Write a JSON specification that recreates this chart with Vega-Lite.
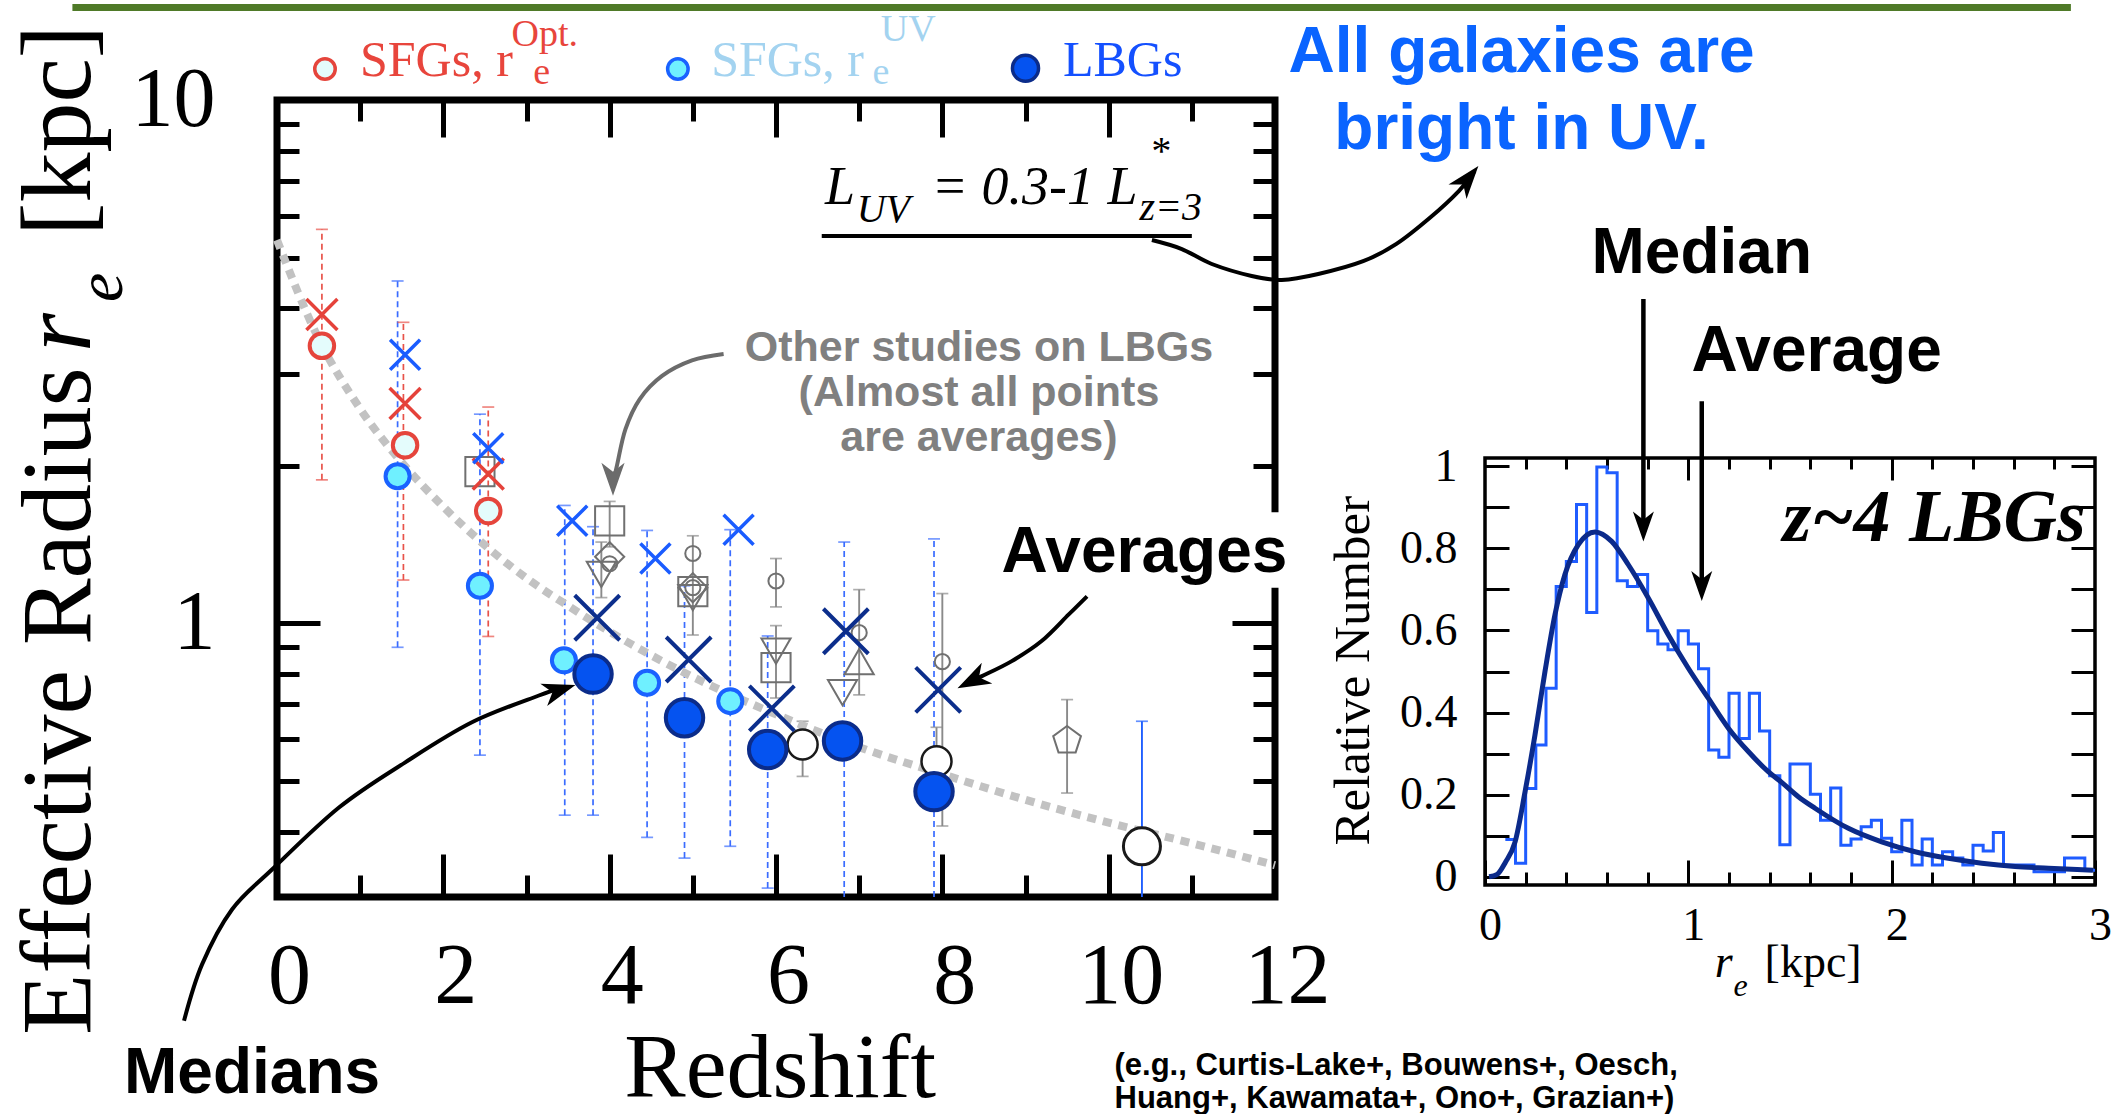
{
 "$schema": "https://vega.github.io/schema/vega-lite/v6.json",
 "background": "white",
 "padding": {"left": 6, "top": 0, "right": 0, "bottom": 0},
 "spacing": 210,
 "bounds": "flush",
 "config": {
  "view": {"stroke": "black", "strokeWidth": 7},
  "axis": {"domain": false, "grid": false, "labelColor": "black", "labelFont": "Liberation Serif", "tickColor": "black", "title": null},
  "font": "Liberation Serif"
 },
 "datasets": {
  "curve": [{"z":0,"r":5.4},{"z":0.5,"r":3.5},{"z":1,"r":2.57},{"z":1.5,"r":2.03},{"z":2,"r":1.67},{"z":2.5,"r":1.41},{"z":3,"r":1.22},{"z":3.5,"r":1.08},{"z":4,"r":0.964},{"z":5,"r":0.79},{"z":6,"r":0.67},{"z":7,"r":0.58},{"z":8,"r":0.515},{"z":9,"r":0.46},{"z":10,"r":0.416},{"z":11,"r":0.38},{"z":12,"r":0.345}],
  "errs": [
   {"z":0.54,"lo":1.88,"hi":5.66,"grp":"red"},{"z":1.52,"lo":1.21,"hi":3.76,"grp":"red"},{"z":2.54,"lo":0.944,"hi":2.59,"grp":"red"},
   {"z":1.45,"lo":0.9,"hi":4.51,"grp":"blue"},{"z":2.44,"lo":0.56,"hi":2.51,"grp":"blue"},{"z":3.46,"lo":0.43,"hi":1.68,"grp":"blue"},{"z":3.8,"lo":0.43,"hi":1.53,"grp":"blue"},{"z":4.45,"lo":0.39,"hi":1.505,"grp":"blue"},{"z":4.9,"lo":0.356,"hi":1.18,"grp":"blue"},{"z":5.45,"lo":0.375,"hi":1.51,"grp":"blue"},{"z":5.9,"lo":0.312,"hi":0.946,"grp":"blue"},{"z":6.82,"lo":0.3,"hi":1.43,"grp":"blue"},{"z":7.9,"lo":0.3,"hi":1.45,"grp":"blue"},
   {"z":4.0,"lo":1.4,"hi":1.71,"grp":"gray"},{"z":3.9,"lo":1.12,"hi":1.43,"grp":"gray"},{"z":5.0,"lo":0.95,"hi":1.47,"grp":"gray"},{"z":6.0,"lo":1.075,"hi":1.33,"grp":"gray"},{"z":6.0,"lo":0.72,"hi":0.99,"grp":"gray"},{"z":6.32,"lo":0.51,"hi":0.65,"grp":"gray"},{"z":7.0,"lo":0.73,"hi":1.16,"grp":"gray"},{"z":8.0,"lo":0.41,"hi":1.14,"grp":"gray"},{"z":7.93,"lo":0.545,"hi":0.633,"grp":"gray"},{"z":9.5,"lo":0.474,"hi":0.715,"grp":"gray"},
   {"z":10.4,"lo":0.3,"hi":0.65,"grp":"bluesolid"}
  ],
  "pts": [
   {"z":0.54,"r":3.39,"k":"sfgOpt"},{"z":1.54,"r":2.19,"k":"sfgOpt"},{"z":2.54,"r":1.64,"k":"sfgOpt"},
   {"z":0.54,"r":3.89,"k":"sfgOptX"},{"z":1.54,"r":2.63,"k":"sfgOptX"},{"z":2.54,"r":1.93,"k":"sfgOptX"},
   {"z":1.45,"r":1.91,"k":"sfgUV"},{"z":2.44,"r":1.18,"k":"sfgUV"},{"z":3.45,"r":0.85,"k":"sfgUV"},{"z":4.45,"r":0.77,"k":"sfgUV"},{"z":5.45,"r":0.71,"k":"sfgUV"},
   {"z":1.54,"r":3.26,"k":"sfgUVX"},{"z":2.54,"r":2.16,"k":"sfgUVX"},{"z":3.55,"r":1.57,"k":"sfgUVX"},{"z":4.55,"r":1.33,"k":"sfgUVX"},{"z":5.55,"r":1.51,"k":"sfgUVX"},
   {"z":3.8,"r":0.8,"k":"lbg"},{"z":4.9,"r":0.66,"k":"lbg"},{"z":5.9,"r":0.574,"k":"lbg"},{"z":6.8,"r":0.596,"k":"lbg"},{"z":7.9,"r":0.477,"k":"lbg"},
   {"z":3.85,"r":1.025,"k":"lbgX"},{"z":4.95,"r":0.853,"k":"lbgX"},{"z":5.95,"r":0.688,"k":"lbgX"},{"z":6.84,"r":0.966,"k":"lbgX"},{"z":7.95,"r":0.746,"k":"lbgX"},
   {"z":2.44,"r":1.95,"k":"gsq"},{"z":4.0,"r":1.57,"k":"gsq"},{"z":5.0,"r":1.15,"k":"gsq"},{"z":6.0,"r":0.823,"k":"gsq"},
   {"z":4.0,"r":1.34,"k":"gdia"},{"z":5.0,"r":1.17,"k":"gdia"},
   {"z":4.0,"r":1.3,"k":"gcirc"},{"z":5.0,"r":1.36,"k":"gcirc"},{"z":5.0,"r":1.17,"k":"gcirc"},{"z":6.0,"r":1.205,"k":"gcirc"},{"z":7.0,"r":0.96,"k":"gcirc"},{"z":8.0,"r":0.845,"k":"gcirc"},
   {"z":3.9,"r":1.24,"k":"gtd"},{"z":5.0,"r":1.12,"k":"gtd"},{"z":6.0,"r":0.885,"k":"gtd"},{"z":6.8,"r":0.737,"k":"gtd"},
   {"z":7.0,"r":0.845,"k":"gtu"},
   {"z":9.5,"r":0.597,"k":"gpent"},
   {"z":6.32,"r":0.587,"k":"open"},{"z":7.93,"r":0.545,"k":"open"},
   {"z":10.4,"r":0.375,"k":"openbig"}
  ],
  "arrows": [
   {"id":"uv","i":0,"z":10.52,"r":5.4},{"id":"uv","i":1,"z":10.88,"r":5.19},{"id":"uv","i":2,"z":11.24,"r":4.86},{"id":"uv","i":3,"z":11.72,"r":4.61},{"id":"uv","i":4,"z":12.08,"r":4.53},{"id":"uv","i":5,"z":12.52,"r":4.65},{"id":"uv","i":6,"z":13.06,"r":4.92},{"id":"uv","i":7,"z":13.46,"r":5.31},{"id":"uv","i":8,"z":13.87,"r":5.97},{"id":"uv","i":9,"z":14.21,"r":6.7},{"id":"uv","i":10,"z":14.4,"r":7.31},
   {"id":"avg","i":0,"z":9.74,"r":1.126},{"id":"avg","i":1,"z":9.52,"r":1.04},{"id":"avg","i":2,"z":9.19,"r":0.924},{"id":"avg","i":3,"z":8.83,"r":0.846},{"id":"avg","i":4,"z":8.47,"r":0.792},{"id":"avg","i":5,"z":8.3,"r":0.77},
   {"id":"med","i":0,"z":-1.118,"r":0.174},{"id":"med","i":1,"z":-0.901,"r":0.223},{"id":"med","i":2,"z":-0.541,"r":0.284},{"id":"med","i":3,"z":-0.06,"r":0.3385},{"id":"med","i":4,"z":0.745,"r":0.4447},{"id":"med","i":5,"z":1.538,"r":0.542},{"id":"med","i":6,"z":2.344,"r":0.647},{"id":"med","i":7,"z":3.149,"r":0.728},{"id":"med","i":8,"z":3.35,"r":0.745}
  ],
  "grayarrow": [{"i":0,"z":5.37,"r":3.27},{"i":1,"z":4.99,"r":3.18},{"i":2,"z":4.63,"r":2.97},{"i":3,"z":4.36,"r":2.68},{"i":4,"z":4.19,"r":2.35},{"i":5,"z":4.09,"r":2.01},{"i":6,"z":4.04,"r":1.85}],
  "hist": [
   {"k":0.1,"v":0.091},{"k":0.15,"v":0.033},{"k":0.2,"v":0.215},{"k":0.25,"v":0.321},{"k":0.3,"v":0.459},{"k":0.35,"v":0.707},{"k":0.4,"v":0.768},{"k":0.45,"v":0.907},{"k":0.5,"v":0.644},{"k":0.55,"v":0.998},
   {"k":0.6,"v":0.984},{"k":0.65,"v":0.721},{"k":0.7,"v":0.707},{"k":0.75,"v":0.736},{"k":0.8,"v":0.599},{"k":0.85,"v":0.567},{"k":0.9,"v":0.553},{"k":0.95,"v":0.599},{"k":1.0,"v":0.567},{"k":1.05,"v":0.507},
   {"k":1.1,"v":0.309},{"k":1.15,"v":0.291},{"k":1.2,"v":0.447},{"k":1.25,"v":0.337},{"k":1.3,"v":0.447},{"k":1.35,"v":0.355},{"k":1.4,"v":0.246},{"k":1.45,"v":0.078},{"k":1.5,"v":0.275},{"k":1.55,"v":0.275},
   {"k":1.6,"v":0.201},{"k":1.65,"v":0.138},{"k":1.7,"v":0.216},{"k":1.75,"v":0.077},{"k":1.8,"v":0.092},{"k":1.85,"v":0.122},{"k":1.9,"v":0.138},{"k":1.95,"v":0.094},{"k":2.0,"v":0.061},{"k":2.05,"v":0.138},
   {"k":2.1,"v":0.029},{"k":2.15,"v":0.092},{"k":2.2,"v":0.029},{"k":2.25,"v":0.061},{"k":2.3,"v":0.046},{"k":2.35,"v":0.029},{"k":2.4,"v":0.077},{"k":2.45,"v":0.063},{"k":2.5,"v":0.108},{"k":2.55,"v":0.029},
   {"k":2.6,"v":0.029},{"k":2.65,"v":0.029},{"k":2.7,"v":0.012},{"k":2.75,"v":0.012},{"k":2.8,"v":0.012},{"k":2.85,"v":0.046},{"k":2.9,"v":0.046},{"k":2.95,"v":0.016},{"k":3.0,"v":0.016}
  ],
  "fit": [
   {"k":0.02,"v":0.0},{"k":0.06,"v":0.006},{"k":0.1,"v":0.035},{"k":0.148,"v":0.085},{"k":0.197,"v":0.207},{"k":0.246,"v":0.346},{"k":0.295,"v":0.5},{"k":0.344,"v":0.638},{"k":0.393,"v":0.736},{"k":0.459,"v":0.809},{"k":0.541,"v":0.84},{"k":0.623,"v":0.817},{"k":0.705,"v":0.76},{"k":0.803,"v":0.679},{"k":0.902,"v":0.589},{"k":1.0,"v":0.508},{"k":1.098,"v":0.435},{"k":1.197,"v":0.362},{"k":1.295,"v":0.305},{"k":1.393,"v":0.256},{"k":1.459,"v":0.23},{"k":1.541,"v":0.195},{"k":1.623,"v":0.167},{"k":1.787,"v":0.118},{"k":1.951,"v":0.085},{"k":2.115,"v":0.061},{"k":2.279,"v":0.045},{"k":2.443,"v":0.033},{"k":2.607,"v":0.025},{"k":2.771,"v":0.021},{"k":2.99,"v":0.016}
  ]
 },
 "hconcat": [
  {
   "width": 998, "height": 797,
   "resolve": {"axis": {"x": "independent", "y": "independent"}},
   "layer": [
    {"data": {"name": "errs"}, "transform": [{"filter": "datum.grp == 'red' || datum.grp == 'blue'"}],
     "mark": {"type": "rule", "strokeDash": [6, 4], "strokeWidth": 1.7},
     "encoding": {
      "x": {"field": "z", "type": "quantitative", "scale": {"domain": [0, 12], "nice": false, "zero": false}, "axis": {"orient": "bottom", "values": [0,2,4,6,8,10,12], "ticks": false, "labelFontSize": 86, "labelPadding": 37, "labelOffset": 12, "labelFlush": false}},
      "y": {"field": "lo", "type": "quantitative", "scale": {"type": "log", "domain": [0.3, 10], "nice": false}, "axis": {"orient": "left", "values": [1, 10], "ticks": false, "labelFontSize": 84, "labelPadding": 62, "labelFlush": false, "format": "~g"}},
      "y2": {"field": "hi"},
      "color": {"field": "grp", "type": "nominal", "scale": {"domain": ["red","blue","gray","bluesolid"], "range": ["#e8534a","#3a6cff","#8a8a8a","#1f5fff"]}, "legend": null}
     }},
    {"data": {"name": "errs"}, "transform": [{"filter": "datum.grp == 'gray' || datum.grp == 'bluesolid'"}],
     "mark": {"type": "rule", "strokeWidth": 1.9},
     "encoding": {
      "x": {"field": "z", "type": "quantitative", "scale": {"domain": [0, 12], "nice": false, "zero": false}, "axis": {"orient": "bottom", "values": [0,2,4,6,8,10,12], "labels": false, "tickSize": -43, "tickWidth": 5}},
      "y": {"field": "lo", "type": "quantitative", "scale": {"type": "log", "domain": [0.3, 10], "nice": false}, "axis": {"orient": "left", "values": [1, 10], "labels": false, "tickSize": -43, "tickWidth": 5}},
      "y2": {"field": "hi"},
      "color": {"field": "grp", "type": "nominal", "legend": null}
     }},
    {"data": {"name": "errs"},
     "mark": {"type": "tick", "orient": "horizontal", "size": 12, "thickness": 1.7},
     "encoding": {
      "x": {"field": "z", "type": "quantitative", "scale": {"domain": [0, 12], "nice": false, "zero": false}, "axis": {"orient": "bottom", "values": [1,3,5,7,9,11], "labels": false, "tickSize": -22, "tickWidth": 5}},
      "y": {"field": "hi", "type": "quantitative", "scale": {"type": "log", "domain": [0.3, 10], "nice": false}, "axis": {"orient": "left", "values": [0.4,0.5,0.6,0.7,0.8,0.9,2,3,4,5,6,7,8,9], "labels": false, "tickSize": -22, "tickWidth": 5}},
      "color": {"field": "grp", "type": "nominal", "legend": null}
     }},
    {"data": {"name": "errs"}, "transform": [{"filter": "datum.lo > 0.31"}],
     "mark": {"type": "tick", "orient": "horizontal", "size": 12, "thickness": 1.7},
     "encoding": {
      "x": {"field": "z", "type": "quantitative", "scale": {"domain": [0, 12], "nice": false, "zero": false}, "axis": {"orient": "top", "values": [0,2,4,6,8,10,12], "labels": false, "tickSize": -37, "tickWidth": 5}},
      "y": {"field": "lo", "type": "quantitative", "scale": {"type": "log", "domain": [0.3, 10], "nice": false}, "axis": {"orient": "right", "values": [1, 10], "labels": false, "tickSize": -43, "tickWidth": 5}},
      "color": {"field": "grp", "type": "nominal", "legend": null}
     }},
    {"data": {"name": "curve"},
     "mark": {"type": "line", "color": "#c2c2c2", "strokeWidth": 8, "strokeDash": [9, 7], "interpolate": "monotone"},
     "encoding": {
      "x": {"field": "z", "type": "quantitative", "scale": {"domain": [0, 12], "nice": false, "zero": false}, "axis": {"orient": "top", "values": [1,3,5,7,9,11], "labels": false, "tickSize": -21, "tickWidth": 5}},
      "y": {"field": "r", "type": "quantitative", "scale": {"type": "log", "domain": [0.3, 10], "nice": false}, "axis": {"orient": "right", "values": [0.4,0.5,0.6,0.7,0.8,0.9,2,3,4,5,6,7,8,9], "labels": false, "tickSize": -22, "tickWidth": 5}}
     }},
    {"data": {"name": "pts"}, "transform": [{"filter": "indexof(['gsq','gdia','gtd','gtu','gpent'], datum.k) >= 0"}],
     "mark": {"type": "point", "filled": false, "color": "#707070", "strokeWidth": 2, "size": 850, "opacity": 1},
     "encoding": {
      "x": {"field": "z", "type": "quantitative", "scale": {"domain": [0, 12], "nice": false, "zero": false}, "axis": null},
      "y": {"field": "r", "type": "quantitative", "scale": {"type": "log", "domain": [0.3, 10], "nice": false}, "axis": null},
      "shape": {"field": "k", "type": "nominal", "scale": {"domain": ["gsq","gdia","gtd","gtu","gpent"], "range": ["square","diamond","triangle-down","triangle-up","M0,-1L0.951,-0.309L0.588,0.809L-0.588,0.809L-0.951,-0.309Z"]}, "legend": null}
     }},
    {"data": {"name": "pts"}, "transform": [{"filter": "datum.k == 'gcirc'"}],
     "mark": {"type": "point", "shape": "circle", "filled": false, "color": "#707070", "strokeWidth": 2, "size": 230, "opacity": 1},
     "encoding": {
      "x": {"field": "z", "type": "quantitative", "scale": {"domain": [0, 12], "nice": false, "zero": false}, "axis": null},
      "y": {"field": "r", "type": "quantitative", "scale": {"type": "log", "domain": [0.3, 10], "nice": false}, "axis": null}
     }},
    {"data": {"name": "pts"}, "transform": [{"filter": "datum.k == 'open'"}],
     "mark": {"type": "point", "shape": "circle", "filled": true, "fill": "white", "stroke": "#1a1a1a", "strokeWidth": 2.5, "size": 900, "opacity": 1},
     "encoding": {
      "x": {"field": "z", "type": "quantitative", "scale": {"domain": [0, 12], "nice": false, "zero": false}, "axis": null},
      "y": {"field": "r", "type": "quantitative", "scale": {"type": "log", "domain": [0.3, 10], "nice": false}, "axis": null}
     }},
    {"data": {"name": "pts"}, "transform": [{"filter": "datum.k == 'openbig'"}],
     "mark": {"type": "point", "shape": "circle", "filled": true, "fill": "white", "stroke": "#1a1a1a", "strokeWidth": 3, "size": 1370, "opacity": 1},
     "encoding": {
      "x": {"field": "z", "type": "quantitative", "scale": {"domain": [0, 12], "nice": false, "zero": false}, "axis": null},
      "y": {"field": "r", "type": "quantitative", "scale": {"type": "log", "domain": [0.3, 10], "nice": false}, "axis": null}
     }},
    {"data": {"name": "pts"}, "transform": [{"filter": "datum.k == 'sfgOpt'"}],
     "mark": {"type": "point", "shape": "circle", "filled": true, "fill": "#e4fcfc", "stroke": "#e5453c", "strokeWidth": 4, "size": 600, "opacity": 1},
     "encoding": {
      "x": {"field": "z", "type": "quantitative", "scale": {"domain": [0, 12], "nice": false, "zero": false}, "axis": null},
      "y": {"field": "r", "type": "quantitative", "scale": {"type": "log", "domain": [0.3, 10], "nice": false}, "axis": null}
     }},
    {"data": {"name": "pts"}, "transform": [{"filter": "datum.k == 'sfgUV'"}],
     "mark": {"type": "point", "shape": "circle", "filled": true, "fill": "#6ff0ff", "stroke": "#1a62ff", "strokeWidth": 4, "size": 580, "opacity": 1},
     "encoding": {
      "x": {"field": "z", "type": "quantitative", "scale": {"domain": [0, 12], "nice": false, "zero": false}, "axis": null},
      "y": {"field": "r", "type": "quantitative", "scale": {"type": "log", "domain": [0.3, 10], "nice": false}, "axis": null}
     }},
    {"data": {"name": "pts"}, "transform": [{"filter": "datum.k == 'lbg'"}],
     "mark": {"type": "point", "shape": "circle", "filled": true, "fill": "#0553f0", "stroke": "#0b2c8a", "strokeWidth": 4, "size": 1400, "opacity": 1},
     "encoding": {
      "x": {"field": "z", "type": "quantitative", "scale": {"domain": [0, 12], "nice": false, "zero": false}, "axis": null},
      "y": {"field": "r", "type": "quantitative", "scale": {"type": "log", "domain": [0.3, 10], "nice": false}, "axis": null}
     }},
    {"data": {"name": "pts"}, "transform": [{"filter": "datum.k == 'sfgOptX'"}],
     "mark": {"type": "point", "shape": "M-1,-1L1,1M-1,1L1,-1", "filled": false, "color": "#e5423a", "strokeWidth": 3.5, "size": 960, "opacity": 1},
     "encoding": {
      "x": {"field": "z", "type": "quantitative", "scale": {"domain": [0, 12], "nice": false, "zero": false}, "axis": null},
      "y": {"field": "r", "type": "quantitative", "scale": {"type": "log", "domain": [0.3, 10], "nice": false}, "axis": null}
     }},
    {"data": {"name": "pts"}, "transform": [{"filter": "datum.k == 'sfgUVX'"}],
     "mark": {"type": "point", "shape": "M-1,-1L1,1M-1,1L1,-1", "filled": false, "color": "#1a5cff", "strokeWidth": 3.5, "size": 900, "opacity": 1},
     "encoding": {
      "x": {"field": "z", "type": "quantitative", "scale": {"domain": [0, 12], "nice": false, "zero": false}, "axis": null},
      "y": {"field": "r", "type": "quantitative", "scale": {"type": "log", "domain": [0.3, 10], "nice": false}, "axis": null}
     }},
    {"data": {"name": "pts"}, "transform": [{"filter": "datum.k == 'lbgX'"}],
     "mark": {"type": "point", "shape": "M-1,-1L1,1M-1,1L1,-1", "filled": false, "color": "#0c2e8c", "strokeWidth": 4, "size": 2025, "opacity": 1},
     "encoding": {
      "x": {"field": "z", "type": "quantitative", "scale": {"domain": [0, 12], "nice": false, "zero": false}, "axis": null},
      "y": {"field": "r", "type": "quantitative", "scale": {"type": "log", "domain": [0.3, 10], "nice": false}, "axis": null}
     }},
    {"data": {"values": [{"z1": -2.46, "z2": 21.57, "r1": 15.26, "r2": 14.8}]},
     "mark": {"type": "rect", "color": "#4f7a28"},
     "encoding": {
      "x": {"field": "z1", "type": "quantitative", "scale": {"domain": [0, 12], "nice": false, "zero": false}, "axis": null},
      "x2": {"field": "z2"},
      "y": {"field": "r1", "type": "quantitative", "scale": {"type": "log", "domain": [0.3, 10], "nice": false}, "axis": null},
      "y2": {"field": "r2"}
     }},
    {"data": {"values": [{"z": 0.577, "r": 11.46}]},
     "mark": {"type": "point", "shape": "circle", "filled": true, "fill": "#e4fcfc", "stroke": "#e5453c", "strokeWidth": 3.5, "size": 420, "opacity": 1},
     "encoding": {"x": {"field": "z", "type": "quantitative", "scale": {"domain": [0, 12], "nice": false, "zero": false}, "axis": null}, "y": {"field": "r", "type": "quantitative", "scale": {"type": "log", "domain": [0.3, 10], "nice": false}, "axis": null}}},
    {"data": {"values": [{"z": 4.82, "r": 11.46}]},
     "mark": {"type": "point", "shape": "circle", "filled": true, "fill": "#6ff0ff", "stroke": "#1a62ff", "strokeWidth": 3.5, "size": 420, "opacity": 1},
     "encoding": {"x": {"field": "z", "type": "quantitative", "scale": {"domain": [0, 12], "nice": false, "zero": false}, "axis": null}, "y": {"field": "r", "type": "quantitative", "scale": {"type": "log", "domain": [0.3, 10], "nice": false}, "axis": null}}},
    {"data": {"values": [{"z": 9.0, "r": 11.5}]},
     "mark": {"type": "point", "shape": "circle", "filled": true, "fill": "#0553f0", "stroke": "#0b2c8a", "strokeWidth": 3.5, "size": 680, "opacity": 1},
     "encoding": {"x": {"field": "z", "type": "quantitative", "scale": {"domain": [0, 12], "nice": false, "zero": false}, "axis": null}, "y": {"field": "r", "type": "quantitative", "scale": {"type": "log", "domain": [0.3, 10], "nice": false}, "axis": null}}},
    {"data": {"values": [{"t": "SFGs, r", "z": 0.998, "r": 11.12}]},
     "mark": {"type": "text", "align": "left", "baseline": "alphabetic", "font": "Liberation Serif", "fontSize": 50, "color": "#e8453c"},
     "encoding": {"x": {"field": "z", "type": "quantitative", "scale": {"domain": [0, 12], "nice": false, "zero": false}, "axis": null}, "y": {"field": "r", "type": "quantitative", "scale": {"type": "log", "domain": [0.3, 10], "nice": false}, "axis": null}, "text": {"field": "t"}}},
    {"data": {"values": [{"t": "Opt.", "z": 2.82, "r": 12.69}, {"t": "e", "z": 3.08, "r": 10.73}]},
     "mark": {"type": "text", "align": "left", "baseline": "alphabetic", "font": "Liberation Serif", "fontSize": 38, "color": "#e8453c"},
     "encoding": {"x": {"field": "z", "type": "quantitative", "scale": {"domain": [0, 12], "nice": false, "zero": false}, "axis": null}, "y": {"field": "r", "type": "quantitative", "scale": {"type": "log", "domain": [0.3, 10], "nice": false}, "axis": null}, "text": {"field": "t"}}},
    {"data": {"values": [{"t": "SFGs, r", "z": 5.22, "r": 11.12}]},
     "mark": {"type": "text", "align": "left", "baseline": "alphabetic", "font": "Liberation Serif", "fontSize": 50, "color": "#a3d3f0"},
     "encoding": {"x": {"field": "z", "type": "quantitative", "scale": {"domain": [0, 12], "nice": false, "zero": false}, "axis": null}, "y": {"field": "r", "type": "quantitative", "scale": {"type": "log", "domain": [0.3, 10], "nice": false}, "axis": null}, "text": {"field": "t"}}},
    {"data": {"values": [{"t": "UV", "z": 7.26, "r": 12.97}, {"t": "e", "z": 7.16, "r": 10.73}]},
     "mark": {"type": "text", "align": "left", "baseline": "alphabetic", "font": "Liberation Serif", "fontSize": 38, "color": "#a3d3f0"},
     "encoding": {"x": {"field": "z", "type": "quantitative", "scale": {"domain": [0, 12], "nice": false, "zero": false}, "axis": null}, "y": {"field": "r", "type": "quantitative", "scale": {"type": "log", "domain": [0.3, 10], "nice": false}, "axis": null}, "text": {"field": "t"}}},
    {"data": {"values": [{"t": "LBGs", "z": 9.45, "r": 11.12}]},
     "mark": {"type": "text", "align": "left", "baseline": "alphabetic", "font": "Liberation Serif", "fontSize": 50, "color": "#1450ff"},
     "encoding": {"x": {"field": "z", "type": "quantitative", "scale": {"domain": [0, 12], "nice": false, "zero": false}, "axis": null}, "y": {"field": "r", "type": "quantitative", "scale": {"type": "log", "domain": [0.3, 10], "nice": false}, "axis": null}, "text": {"field": "t"}}},
    {"data": {"values": [{"t": "L", "z": 6.59, "r": 6.33}, {"t": "= 0.3-1 L", "z": 7.87, "r": 6.33}]},
     "mark": {"type": "text", "align": "left", "baseline": "alphabetic", "font": "Liberation Serif", "fontStyle": "italic", "fontSize": 54, "color": "black"},
     "encoding": {"x": {"field": "z", "type": "quantitative", "scale": {"domain": [0, 12], "nice": false, "zero": false}, "axis": null}, "y": {"field": "r", "type": "quantitative", "scale": {"type": "log", "domain": [0.3, 10], "nice": false}, "axis": null}, "text": {"field": "t"}}},
    {"data": {"values": [{"t": "UV", "z": 6.97, "r": 5.84}, {"t": "z=3", "z": 10.37, "r": 5.9}, {"t": "*", "z": 10.49, "r": 7.55}]},
     "mark": {"type": "text", "align": "left", "baseline": "alphabetic", "font": "Liberation Serif", "fontStyle": "italic", "fontSize": 40, "color": "black"},
     "encoding": {"x": {"field": "z", "type": "quantitative", "scale": {"domain": [0, 12], "nice": false, "zero": false}, "axis": null}, "y": {"field": "r", "type": "quantitative", "scale": {"type": "log", "domain": [0.3, 10], "nice": false}, "axis": null}, "text": {"field": "t"}}},
    {"data": {"values": [{"z1": 6.55, "z2": 11.0, "r": 5.5}]},
     "mark": {"type": "rule", "color": "black", "strokeWidth": 4},
     "encoding": {"x": {"field": "z1", "type": "quantitative", "scale": {"domain": [0, 12], "nice": false, "zero": false}, "axis": null}, "x2": {"field": "z2"}, "y": {"field": "r", "type": "quantitative", "scale": {"type": "log", "domain": [0.3, 10], "nice": false}, "axis": null}}},
    {"data": {"name": "arrows"},
     "mark": {"type": "line", "color": "black", "strokeWidth": 4, "interpolate": "cardinal"},
     "encoding": {"x": {"field": "z", "type": "quantitative", "scale": {"domain": [0, 12], "nice": false, "zero": false}, "axis": null}, "y": {"field": "r", "type": "quantitative", "scale": {"type": "log", "domain": [0.3, 10], "nice": false}, "axis": null}, "detail": {"field": "id"}, "order": {"field": "i"}}},
    {"data": {"name": "grayarrow"},
     "mark": {"type": "line", "color": "#6b6b6b", "strokeWidth": 4, "interpolate": "cardinal"},
     "encoding": {"x": {"field": "z", "type": "quantitative", "scale": {"domain": [0, 12], "nice": false, "zero": false}, "axis": null}, "y": {"field": "r", "type": "quantitative", "scale": {"type": "log", "domain": [0.3, 10], "nice": false}, "axis": null}, "order": {"field": "i"}}},
    {"data": {"values": [{"z": 14.32, "r": 7.07}]},
     "mark": {"type": "point", "shape": "M0,-1L0.7,1L0,0.45L-0.7,1Z", "filled": true, "color": "black", "size": 1100, "angle": 39, "opacity": 1},
     "encoding": {"x": {"field": "z", "type": "quantitative", "scale": {"domain": [0, 12], "nice": false, "zero": false}, "axis": null}, "y": {"field": "r", "type": "quantitative", "scale": {"type": "log", "domain": [0.3, 10], "nice": false}, "axis": null}}},
    {"data": {"values": [{"z": 4.04, "r": 1.885}]},
     "mark": {"type": "point", "shape": "M0,-1L0.7,1L0,0.45L-0.7,1Z", "filled": true, "color": "#6b6b6b", "size": 1100, "angle": 180, "opacity": 1},
     "encoding": {"x": {"field": "z", "type": "quantitative", "scale": {"domain": [0, 12], "nice": false, "zero": false}, "axis": null}, "y": {"field": "r", "type": "quantitative", "scale": {"type": "log", "domain": [0.3, 10], "nice": false}, "axis": null}}},
    {"data": {"values": [{"z": 8.36, "r": 0.777}]},
     "mark": {"type": "point", "shape": "M0,-1L0.7,1L0,0.45L-0.7,1Z", "filled": true, "color": "black", "size": 1100, "angle": 243, "opacity": 1},
     "encoding": {"x": {"field": "z", "type": "quantitative", "scale": {"domain": [0, 12], "nice": false, "zero": false}, "axis": null}, "y": {"field": "r", "type": "quantitative", "scale": {"type": "log", "domain": [0.3, 10], "nice": false}, "axis": null}}},
    {"data": {"values": [{"z": 3.398, "r": 0.746}]},
     "mark": {"type": "point", "shape": "M0,-1L0.7,1L0,0.45L-0.7,1Z", "filled": true, "color": "black", "size": 1100, "angle": 73, "opacity": 1},
     "encoding": {"x": {"field": "z", "type": "quantitative", "scale": {"domain": [0, 12], "nice": false, "zero": false}, "axis": null}, "y": {"field": "r", "type": "quantitative", "scale": {"type": "log", "domain": [0.3, 10], "nice": false}, "axis": null}}},
    {"data": {"values": [{"t": "Other studies on LBGs\n(Almost all points\nare averages)", "z": 8.44, "r": 3.17}]},
     "mark": {"type": "text", "align": "center", "baseline": "alphabetic", "font": "Liberation Sans", "fontWeight": "bold", "fontSize": 43, "lineHeight": 45, "lineBreak": "\n", "color": "#808080"},
     "encoding": {"x": {"field": "z", "type": "quantitative", "scale": {"domain": [0, 12], "nice": false, "zero": false}, "axis": null}, "y": {"field": "r", "type": "quantitative", "scale": {"type": "log", "domain": [0.3, 10], "nice": false}, "axis": null}, "text": {"field": "t"}}},
    {"data": {"values": [{"z1": 11.8, "z2": 12.3, "r1": 1.17, "r2": 1.63}]},
     "mark": {"type": "rect", "color": "white"},
     "encoding": {"x": {"field": "z1", "type": "quantitative", "scale": {"domain": [0, 12], "nice": false, "zero": false}, "axis": null}, "x2": {"field": "z2"}, "y": {"field": "r1", "type": "quantitative", "scale": {"type": "log", "domain": [0.3, 10], "nice": false}, "axis": null}, "y2": {"field": "r2"}}},
    {"data": {"values": [{"t": "Averages", "z": 10.43, "r": 1.252}, {"t": "Medians", "z": -0.3, "r": 0.1268}]},
     "mark": {"type": "text", "align": "center", "baseline": "alphabetic", "font": "Liberation Sans", "fontWeight": "bold", "fontSize": 64, "color": "black"},
     "encoding": {"x": {"field": "z", "type": "quantitative", "scale": {"domain": [0, 12], "nice": false, "zero": false}, "axis": null}, "y": {"field": "r", "type": "quantitative", "scale": {"type": "log", "domain": [0.3, 10], "nice": false}, "axis": null}, "text": {"field": "t"}}},
    {"data": {"values": [{"t": "(e.g., Curtis-Lake+, Bouwens+, Oesch,\nHuang+, Kawamata+, Ono+, Grazian+)", "z": 10.07, "r": 0.1373}]},
     "mark": {"type": "text", "align": "left", "baseline": "alphabetic", "font": "Liberation Sans", "fontWeight": "bold", "fontSize": 31, "lineHeight": 33, "lineBreak": "\n", "color": "black"},
     "encoding": {"x": {"field": "z", "type": "quantitative", "scale": {"domain": [0, 12], "nice": false, "zero": false}, "axis": null}, "y": {"field": "r", "type": "quantitative", "scale": {"type": "log", "domain": [0.3, 10], "nice": false}, "axis": null}, "text": {"field": "t"}}},
    {"data": {"values": [{"t": "Redshift", "z": 6.05, "r": 0.1246}]},
     "mark": {"type": "text", "align": "center", "baseline": "alphabetic", "font": "Liberation Serif", "fontSize": 92, "color": "black"},
     "encoding": {"x": {"field": "z", "type": "quantitative", "scale": {"domain": [0, 12], "nice": false, "zero": false}, "axis": null}, "y": {"field": "r", "type": "quantitative", "scale": {"type": "log", "domain": [0.3, 10], "nice": false}, "axis": null}, "text": {"field": "t"}}},
    {"data": {"values": [{"t": "Effective Radius", "z": -2.248, "r": 0.1637}, {"t": "[kpc]", "z": -2.248, "r": 5.5}]},
     "mark": {"type": "text", "align": "left", "baseline": "alphabetic", "angle": 270, "font": "Liberation Serif", "fontSize": 100, "color": "black"},
     "encoding": {"x": {"field": "z", "type": "quantitative", "scale": {"domain": [0, 12], "nice": false, "zero": false}, "axis": null}, "y": {"field": "r", "type": "quantitative", "scale": {"type": "log", "domain": [0.3, 10], "nice": false}, "axis": null}, "text": {"field": "t"}}},
    {"data": {"values": [{"t": "r", "z": -2.248, "r": 3.3}]},
     "mark": {"type": "text", "align": "left", "baseline": "alphabetic", "angle": 270, "font": "Liberation Serif", "fontStyle": "italic", "fontSize": 100, "color": "black"},
     "encoding": {"x": {"field": "z", "type": "quantitative", "scale": {"domain": [0, 12], "nice": false, "zero": false}, "axis": null}, "y": {"field": "r", "type": "quantitative", "scale": {"type": "log", "domain": [0.3, 10], "nice": false}, "axis": null}, "text": {"field": "t"}}},
    {"data": {"values": [{"t": "e", "z": -1.863, "r": 4.11}]},
     "mark": {"type": "text", "align": "left", "baseline": "alphabetic", "angle": 270, "font": "Liberation Serif", "fontStyle": "italic", "fontSize": 66, "color": "black"},
     "encoding": {"x": {"field": "z", "type": "quantitative", "scale": {"domain": [0, 12], "nice": false, "zero": false}, "axis": null}, "y": {"field": "r", "type": "quantitative", "scale": {"type": "log", "domain": [0.3, 10], "nice": false}, "axis": null}, "text": {"field": "t"}}}
   ]
  },
  {
   "spacing": 0,
   "bounds": "flush",
   "vconcat": [
    {"width": 610, "height": 358, "view": {"stroke": null},
     "data": {"values": [{"t": "All galaxies are\nbright in UV.", "x": 0.18, "y": 1.078}]},
     "mark": {"type": "text", "align": "center", "baseline": "alphabetic", "font": "Liberation Sans", "fontWeight": "bold", "fontSize": 64, "lineHeight": 77, "lineBreak": "\n", "color": "#0a64ff"},
     "encoding": {
      "x": {"field": "x", "type": "quantitative", "scale": {"domain": [0, 3], "nice": false, "zero": false}, "axis": null},
      "y": {"field": "y", "type": "quantitative", "scale": {"domain": [0, 1], "nice": false, "zero": false}, "axis": null},
      "text": {"field": "t"}
     }},
    {"width": 610, "height": 427, "view": {"stroke": "black", "strokeWidth": 3.5},
     "resolve": {"axis": {"x": "independent", "y": "independent"}},
     "layer": [
      {"data": {"name": "hist"},
       "mark": {"type": "line", "interpolate": "step-after", "color": "#1f5cff", "strokeWidth": 3},
       "encoding": {
        "x": {"field": "k", "type": "quantitative", "scale": {"domain": [0, 3], "nice": false, "zero": false}, "axis": {"orient": "bottom", "values": [0,1,2,3], "ticks": false, "labelFontSize": 46, "labelPadding": 18, "labelOffset": 5, "labelFlush": false}},
        "y": {"field": "v", "type": "quantitative", "scale": {"domain": [-0.02, 1.02], "nice": false, "zero": false}, "axis": {"orient": "left", "values": [0,0.2,0.4,0.6,0.8,1], "ticks": false, "labelFontSize": 46, "labelPadding": 28, "labelFlush": false, "format": "~g"}}
       }},
      {"data": {"name": "fit"},
       "mark": {"type": "line", "interpolate": "monotone", "color": "#0b2a8a", "strokeWidth": 5},
       "encoding": {
        "x": {"field": "k", "type": "quantitative", "scale": {"domain": [0, 3], "nice": false, "zero": false}, "axis": {"orient": "bottom", "values": [0,1,2,3], "labels": false, "tickSize": -25, "tickWidth": 3}},
        "y": {"field": "v", "type": "quantitative", "scale": {"domain": [-0.02, 1.02], "nice": false, "zero": false}, "axis": {"orient": "left", "values": [0,0.1,0.2,0.3,0.4,0.5,0.6,0.7,0.8,0.9,1], "labels": false, "tickSize": -24, "tickWidth": 3}}
       }},
      {"data": {"values": [{"x": 0.779, "y": 1.407, "y2": 0.86}, {"x": 1.066, "y": 1.158, "y2": 0.71}]},
       "mark": {"type": "rule", "color": "black", "strokeWidth": 4.5},
       "encoding": {
        "x": {"field": "x", "type": "quantitative", "scale": {"domain": [0, 3], "nice": false, "zero": false}, "axis": {"orient": "bottom", "values": [0.2,0.4,0.6,0.8,1.2,1.4,1.6,1.8,2.2,2.4,2.6,2.8], "labels": false, "tickSize": -13, "tickWidth": 3}},
        "y": {"field": "y", "type": "quantitative", "scale": {"domain": [-0.02, 1.02], "nice": false, "zero": false}, "axis": {"orient": "right", "values": [0,0.1,0.2,0.3,0.4,0.5,0.6,0.7,0.8,0.9,1], "labels": false, "tickSize": -24, "tickWidth": 3}},
        "y2": {"field": "y2"}
       }},
      {"data": {"values": [{"x": 0.779, "y": 0.853}, {"x": 1.066, "y": 0.708}]},
       "mark": {"type": "point", "shape": "M0,-1L0.7,1L0,0.45L-0.7,1Z", "filled": true, "color": "black", "size": 900, "angle": 180, "opacity": 1},
       "encoding": {
        "x": {"field": "x", "type": "quantitative", "scale": {"domain": [0, 3], "nice": false, "zero": false}, "axis": {"orient": "top", "values": [1,2], "labels": false, "tickSize": -22, "tickWidth": 3}},
        "y": {"field": "y", "type": "quantitative", "scale": {"domain": [-0.02, 1.02], "nice": false, "zero": false}, "axis": null}
       }},
      {"data": {"values": [{"t": "Median", "x": 1.066, "y": 1.47}, {"t": "Average", "x": 1.631, "y": 1.231}]},
       "mark": {"type": "text", "align": "center", "baseline": "alphabetic", "font": "Liberation Sans", "fontWeight": "bold", "fontSize": 64, "color": "black"},
       "encoding": {
        "x": {"field": "x", "type": "quantitative", "scale": {"domain": [0, 3], "nice": false, "zero": false}, "axis": {"orient": "top", "values": [0.2,0.4,0.6,0.8,1.2,1.4,1.6,1.8,2.2,2.4,2.6,2.8], "labels": false, "tickSize": -11, "tickWidth": 3}},
        "y": {"field": "y", "type": "quantitative", "scale": {"domain": [-0.02, 1.02], "nice": false, "zero": false}, "axis": null},
        "text": {"field": "t"}
       }},
      {"data": {"values": [{"t": "z~4 LBGs", "x": 2.955, "y": 0.819}]},
       "mark": {"type": "text", "align": "right", "baseline": "alphabetic", "font": "Liberation Serif", "fontWeight": "bold", "fontStyle": "italic", "fontSize": 74, "color": "black"},
       "encoding": {
        "x": {"field": "x", "type": "quantitative", "scale": {"domain": [0, 3], "nice": false, "zero": false}, "axis": null},
        "y": {"field": "y", "type": "quantitative", "scale": {"domain": [-0.02, 1.02], "nice": false, "zero": false}, "axis": null},
        "text": {"field": "t"}
       }},
      {"data": {"values": [{"t": "Relative Number", "x": -0.571, "y": 0.502}]},
       "mark": {"type": "text", "align": "center", "baseline": "alphabetic", "angle": 270, "font": "Liberation Serif", "fontSize": 51, "color": "black"},
       "encoding": {
        "x": {"field": "x", "type": "quantitative", "scale": {"domain": [0, 3], "nice": false, "zero": false}, "axis": null},
        "y": {"field": "y", "type": "quantitative", "scale": {"domain": [-0.02, 1.02], "nice": false, "zero": false}, "axis": null},
        "text": {"field": "t"}
       }},
      {"data": {"values": [{"t": "r", "x": 1.13, "y": -0.245}]},
       "mark": {"type": "text", "align": "left", "baseline": "alphabetic", "font": "Liberation Serif", "fontStyle": "italic", "fontSize": 46, "color": "black"},
       "encoding": {
        "x": {"field": "x", "type": "quantitative", "scale": {"domain": [0, 3], "nice": false, "zero": false}, "axis": null},
        "y": {"field": "y", "type": "quantitative", "scale": {"domain": [-0.02, 1.02], "nice": false, "zero": false}, "axis": null},
        "text": {"field": "t"}
       }},
      {"data": {"values": [{"t": "e", "x": 1.222, "y": -0.291}]},
       "mark": {"type": "text", "align": "left", "baseline": "alphabetic", "font": "Liberation Serif", "fontStyle": "italic", "fontSize": 32, "color": "black"},
       "encoding": {
        "x": {"field": "x", "type": "quantitative", "scale": {"domain": [0, 3], "nice": false, "zero": false}, "axis": null},
        "y": {"field": "y", "type": "quantitative", "scale": {"domain": [-0.02, 1.02], "nice": false, "zero": false}, "axis": null},
        "text": {"field": "t"}
       }},
      {"data": {"values": [{"t": "[kpc]", "x": 1.375, "y": -0.245}]},
       "mark": {"type": "text", "align": "left", "baseline": "alphabetic", "font": "Liberation Serif", "fontSize": 46, "color": "black"},
       "encoding": {
        "x": {"field": "x", "type": "quantitative", "scale": {"domain": [0, 3], "nice": false, "zero": false}, "axis": null},
        "y": {"field": "y", "type": "quantitative", "scale": {"domain": [-0.02, 1.02], "nice": false, "zero": false}, "axis": null},
        "text": {"field": "t"}
       }}
     ]
    }
   ]
  }
 ]
}
